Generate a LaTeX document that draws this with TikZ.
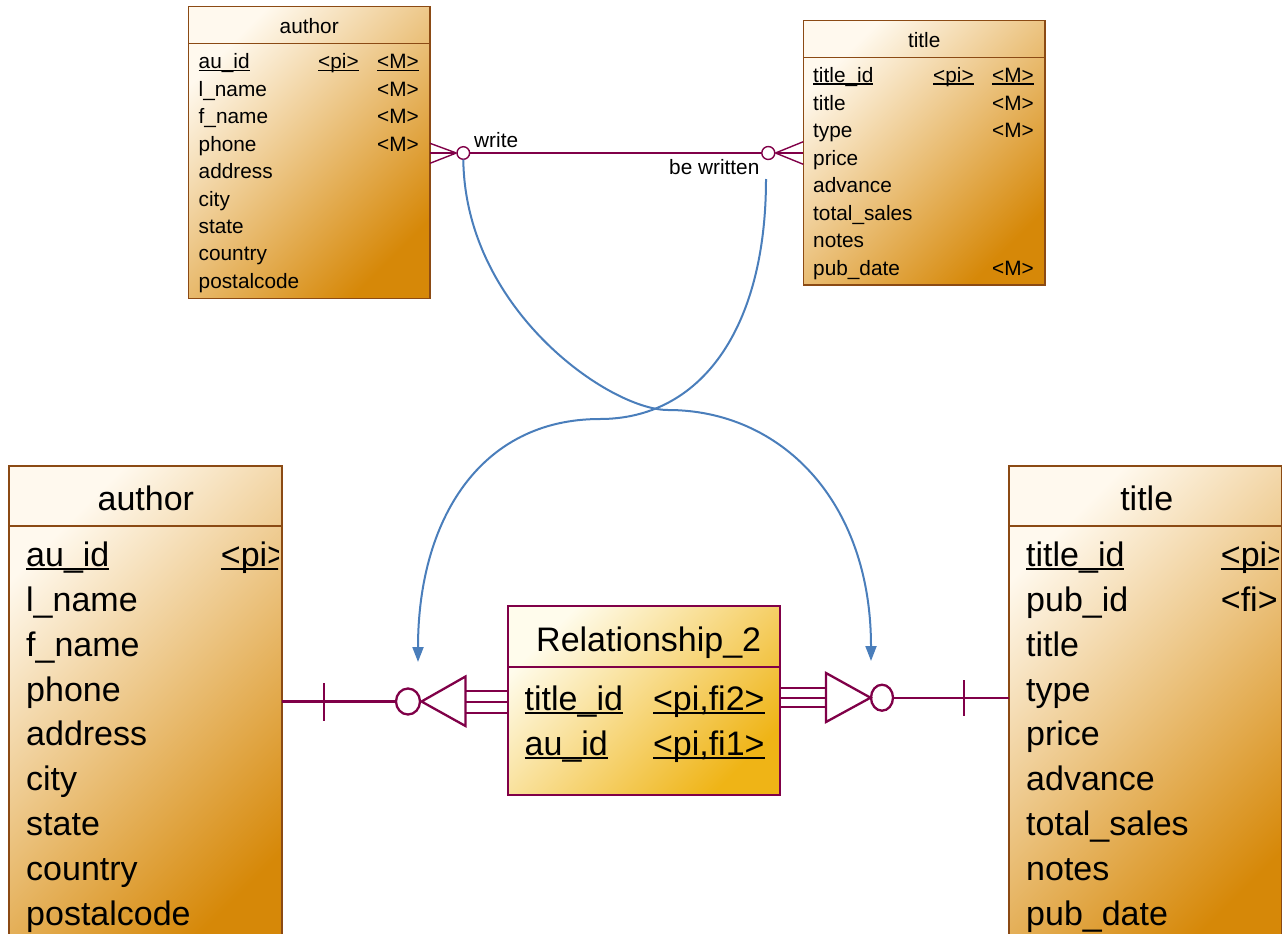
\documentclass[tikz,border=0pt]{standalone}
\usepackage{fontspec}
\setmainfont{Liberation Sans}
\usetikzlibrary{arrows.meta,shapes.geometric}

\definecolor{tblborder}{RGB}{139,74,20}
\definecolor{tbllight}{RGB}{255,249,238}
\definecolor{tbldark}{RGB}{214,136,8}
\definecolor{rellight}{RGB}{255,252,236}
\definecolor{reldark}{RGB}{239,180,22}
\definecolor{relline}{RGB}{128,0,72}
\definecolor{flow}{RGB}{74,126,187}

% key columns: a rule just below the baseline, scaled with the font size
\newcommand{\ukey}[1]{\leavevmode\setbox0\hbox{#1}%
  \rlap{\rule[-0.095em]{\wd0}{0.065em}}\box0}

\begin{document}
\begin{tikzpicture}[x=1pt,y=-1pt,
  tbl/.style={draw=tblborder, line width=1.3pt, top color=tbllight,
    bottom color=tbldark, shading angle=45, inner sep=0pt, outer sep=0pt,
    anchor=north west},
  bigtbl/.style={tbl, line width=2pt},
  reltbl/.style={draw=relline, line width=2.2pt, top color=rellight,
    bottom color=reldark, shading angle=45, inner sep=0pt, outer sep=0pt,
    anchor=north west},
  tblrule/.style={draw=tblborder, line width=1.3pt},
  bigrule/.style={draw=tblborder, line width=2pt},
  st/.style={anchor=base west, inner sep=0pt, font=\fontsize{20.8}{24}\selectfont},
  sth/.style={st, anchor=base},
  bt/.style={anchor=base west, inner sep=0pt, font=\fontsize{34}{40}\selectfont},
  bth/.style={bt, anchor=base},
  rel/.style={draw=relline, line width=1.4pt},
  relbig/.style={draw=relline, line width=2.3pt},
  flowline/.style={draw=flow, line width=2pt, -{Triangle[width=11pt,length=15pt]}},
]
\clip (0,0) rectangle (1282,934);

% ---------- small author table ----------
\node[tbl, minimum width=241.7pt, minimum height=291.6pt] (authorTop) at (188.3,6.7) {};
\draw[tblrule] (authorTop.north west) ++(0,36.6) -- ++(241.7,0);
\node[sth] (at-h) at (309.2,34) {author};
\node[st] (at-key) at (198.5,69) {\ukey{au\_id}};
\node[st] (at-pi) at (318,69) {\ukey{<pi>}};
\node[st] (at-m0) at (377,69) {\ukey{<M>}};
\foreach \f [count=\i from 1] in {l\_name,f\_name,phone,address,city,state,country,postalcode}
  \node[st] (at-\i) at (198.5,{69+27.4*\i}) {\f};
\foreach \i in {1,2,3}
  \node[st] (at-m\i) at (377,{69+27.4*\i}) {<M>};

% ---------- small title table ----------
\node[tbl, minimum width=241.7pt, minimum height=264.3pt] (titleTop) at (803.3,20.7) {};
\draw[tblrule] (titleTop.north west) ++(0,36.6) -- ++(241.7,0);
\node[sth] (tt-h) at (924.2,47.3) {title};
\node[st] (tt-key) at (813,82.7) {\ukey{title\_id}};
\node[st] (tt-pi) at (933,82.7) {\ukey{<pi>}};
\node[st] (tt-m0) at (992,82.7) {\ukey{<M>}};
\foreach \f [count=\i from 1] in {title,type,price,advance,total\_sales,notes,pub\_date}
  \node[st] (tt-\i) at (813,{82.7+27.5*\i}) {\f};
\foreach \i in {1,2,7}
  \node[st] (tt-m\i) at (992,{82.7+27.5*\i}) {<M>};

% ---------- write / be written ----------
\coordinate (aw1) at (430,143.3);
\coordinate (aw2) at (430,153);
\coordinate (aw3) at (430,163.3);
\coordinate (tw1) at (803.3,141.7);
\coordinate (tw2) at (803.3,153);
\coordinate (tw3) at (803.3,164.3);
\node[circle, draw=relline, line width=1.4pt, fill=white, minimum size=12.6pt, inner sep=0pt] (cw) at (463.3,153) {};
\node[circle, draw=relline, line width=1.4pt, fill=white, minimum size=13pt, inner sep=0pt] (cb) at (768.3,153) {};
\draw[rel] (cw.east) -- (cb.west);
\foreach \k in {aw1,aw2,aw3} \draw[rel] (cw.west) -- (\k);
\foreach \k in {tw1,tw2,tw3} \draw[rel] (cb.east) -- (\k);
\node[st] (lbl-w) at (474,147.5) {write};
\node[st] (lbl-b) at (669,174) {be written};

% ---------- large author table ----------
\node[bigtbl, minimum width=273pt, minimum height=500pt] (authorBig) at (9.3,466) {};
\draw[bigrule] (authorBig.north west) ++(0,60) -- ++(273,0);
\node[bth] (ab-h) at (145.8,510) {author};
\begin{scope}
  \clip (10,527) rectangle (278,940);
  \node[bt] (ab-key) at (26,566.7) {\ukey{au\_id}};
  \node[bt] (ab-pi) at (220.7,566.7) {\ukey{<pi>}};
  \foreach \f [count=\i from 1] in {l\_name,f\_name,phone,address,city,state,country,postalcode}
    \node[bt] (ab-\i) at (26,{566.7+44.8*\i}) {\f};
\end{scope}

% ---------- large title table ----------
\node[bigtbl, minimum width=272.4pt, minimum height=500pt] (titleBig) at (1009.3,466) {};
\draw[bigrule] (titleBig.north west) ++(0,60) -- ++(272.4,0);
\node[bth] (tb-h) at (1146.7,510) {title};
\begin{scope}
  \clip (1010,527) rectangle (1278,940);
  \node[bt] (tb-key) at (1026,566.7) {\ukey{title\_id}};
  \node[bt] (tb-pi) at (1220.7,566.7) {\ukey{<pi>}};
  \node[bt] (tb-fi) at (1220.7,611.5) {<fi>};
  \foreach \f [count=\i from 1] in {pub\_id,title,type,price,advance,total\_sales,notes,pub\_date}
    \node[bt] (tb-\i) at (1026,{566.7+44.8*\i}) {\f};
\end{scope}

% ---------- Relationship_2 ----------
\node[reltbl, minimum width=272pt, minimum height=189pt] (rel) at (508,606) {};
\draw[relbig] (rel.north west) ++(0,60.7) -- ++(272,0);
\node[bt] (rl-h) at (536,651) {Relationship\_2};
\node[bt] (rl-1) at (524.5,710.7) {\ukey{title\_id}};
\node[bt] (rl-1k) at (652.8,710.7) {\ukey{<pi,fi2>}};
\node[bt] (rl-2) at (524.5,755.5) {\ukey{au\_id}};
\node[bt] (rl-2k) at (652.8,755.5) {\ukey{<pi,fi1>}};

% ---------- author side of Relationship_2 ----------
\coordinate (la) at (282,701.5);
\node[ellipse, draw=relline, line width=2.3pt, fill=white, minimum width=24pt, minimum height=26pt, inner sep=0pt] (lc) at (408,701.5) {};
\draw[relbig] (la) -- (lc.west);
\draw[relbig] (324,683) -- (324,721);
\draw[relbig, fill=white, line join=miter] (421.5,701.5) -- (465.5,676.5) -- (465.5,726) -- cycle;
\foreach \yy in {691,701.7,713.3}
  \draw[relbig] (465.5,\yy) -- (rel.west |- 0,\yy);

% ---------- title side of Relationship_2 ----------
\coordinate (ra) at (1009.3,697.7);
\node[ellipse, draw=relline, line width=2.3pt, fill=white, minimum width=22pt, minimum height=26pt, inner sep=0pt] (rc) at (882,697.7) {};
\draw[relbig] (rc.east) -- (ra);
\draw[relbig] (964,680) -- (964,716);
\draw[relbig, fill=white, line join=miter] (870.5,697.7) -- (826,673) -- (826,722) -- cycle;
\foreach \yy in {687.7,697.7,707.3}
  \draw[relbig] (rel.east |- 0,\yy) -- (826,\yy);

% ---------- mapping arrows ----------
\coordinate (fs1) at (463.3,159.5);
\coordinate (fm1) at (668,410);
\coordinate (fe1) at (871,661);
\coordinate (fs2) at (766,179);
\coordinate (fm2) at (600,419);
\coordinate (fe2) at (418,662);
\draw[flowline] (fs1) .. controls (465,310) and (610,410) .. (fm1)
  .. controls (780,410) and (871,500) .. (fe1);
\draw[flowline] (fs2) .. controls (766,330) and (700,419) .. (fm2)
  .. controls (480,419) and (418,520) .. (fe2);
\end{tikzpicture}
\end{document}
